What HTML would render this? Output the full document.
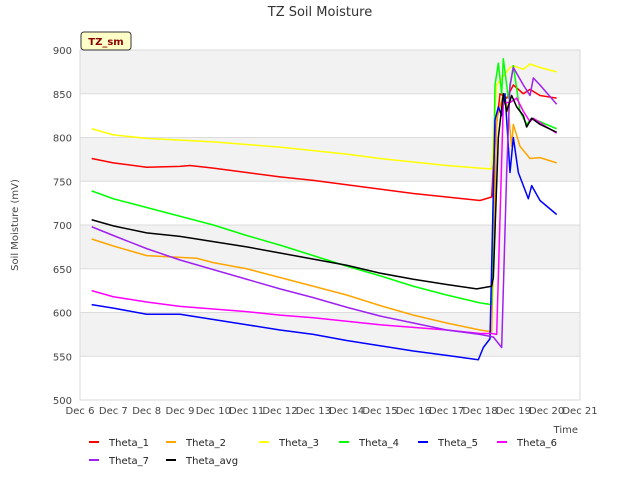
<!DOCTYPE html>
<html><head><meta charset="utf-8"><style>
body{margin:0;background:#fff;font-family:"Liberation Sans","DejaVu Sans",sans-serif}
svg text{font-family:"DejaVu Sans","Liberation Sans",sans-serif}
</style></head><body>
<svg id="c" width="640" height="480" xmlns="http://www.w3.org/2000/svg"></svg>
<script>
const yTicks=[500,550,600,650,700,750,800,850,900];
const xTickLabels=["Dec 6","Dec 7","Dec 8","Dec 9","Dec 10","Dec 11","Dec 12","Dec 13","Dec 14","Dec 15","Dec 16","Dec 17","Dec 18","Dec 19","Dec 20","Dec 21"];
const seriesNames=["Theta_1","Theta_2","Theta_3","Theta_4","Theta_5","Theta_6","Theta_7","Theta_avg"];
const seriesColors=["#ff0000","#ffa500","#ffff00","#00ff00","#0000ff","#ff00ff","#a020f0","#000000"];
const theta1=[[0.35,776],[1,771],[2,766],[3,767],[3.3,768],[4,765],[5,760],[6,755],[7,751],[8,746],[9,741],[10,736],[11,732],[12,728],[12.35,732],[12.45,800],[12.6,850],[12.8,845],[13,860],[13.3,850],[13.5,855],[13.8,848],[14.3,845]];
const theta2=[[0.35,684],[1,676],[2,665],[3,663],[3.5,662],[4,657],[5,650],[6,640],[7,630],[8,620],[9,608],[10,597],[11,588],[12,580],[12.35,578],[12.5,820],[12.7,850],[12.85,830],[12.95,790],[13,815],[13.2,790],[13.5,776],[13.8,777],[14.3,771]];
const theta3=[[0.35,810],[1,803],[2,799],[3,797],[4,795],[5,792],[6,789],[7,785],[8,781],[9,776],[10,772],[11,768],[12,765],[12.35,764],[12.5,860],[12.7,870],[12.9,880],[13,882],[13.3,878],[13.5,884],[13.8,880],[14.3,875]];
const theta4=[[0.35,739],[1,730],[2,720],[3,710],[4,700],[5,688],[6,677],[7,665],[8,653],[9,642],[10,630],[11,620],[12,611],[12.35,609],[12.45,860],[12.55,885],[12.65,850],[12.7,890],[12.85,845],[13,882],[13.2,830],[13.4,815],[13.55,822],[13.8,818],[14.3,810]];
const theta5=[[0.35,609],[1,605],[2,598],[3,598],[4,592],[5,586],[6,580],[7,575],[8,568],[9,562],[10,556],[11,551],[11.95,546],[12.1,560],[12.3,570],[12.45,820],[12.55,835],[12.65,825],[12.75,850],[12.9,760],[13,800],[13.15,760],[13.45,730],[13.55,745],[13.8,728],[14.3,712]];
const theta6=[[0.35,625],[1,618],[2,612],[3,607],[4,604],[5,601],[6,597],[7,594],[8,590],[9,586],[10,583],[11,580],[12,576],[12.35,576],[12.5,575],[12.7,840],[12.9,840],[13.1,845],[13.3,830],[13.5,818],[13.6,822],[14,812],[14.3,805]];
const theta7=[[0.35,698],[1,688],[2,673],[3,660],[4,649],[5,638],[6,627],[7,617],[8,606],[9,596],[10,588],[11,580],[12,575],[12.4,572],[12.65,560],[12.8,760],[12.9,860],[13,880],[13.3,860],[13.5,848],[13.6,868],[13.8,860],[14.3,838]];
const thetaAvg=[[0.35,706],[1,699],[2,691],[3,687],[4,681],[5,675],[6,668],[7,661],[8,654],[9,645],[10,638],[11,632],[11.9,627],[12.35,630],[12.4,640],[12.55,800],[12.7,850],[12.8,830],[12.95,848],[13.1,835],[13.3,825],[13.4,812],[13.55,822],[13.8,815],[14.3,806]];
const allSeries=[theta1,theta2,theta3,theta4,theta5,theta6,theta7,thetaAvg];

const L=80,R=580,T=50,B=400;
const xs=d=>L+(R-L)*d/15;
const ys=v=>B-(B-T)*(v-500)/400;
const NS="http://www.w3.org/2000/svg";
const svg=document.getElementById('c');
function mk(t,a,txt){const e=document.createElementNS(NS,t);for(const k in a)e.setAttribute(k,a[k]);if(txt!==undefined)e.textContent=txt;svg.appendChild(e);return e;}

let e=mk('rect',{x:L,y:T,width:R-L,height:B-T,fill:'#fff',stroke:'#d9d9d9'});


for(let i=0;i<yTicks.length-1;i++){
  if(i%2===1){
    const b=mk('rect',{x:L,y:ys(yTicks[i+1]),width:R-L,height:ys(yTicks[i])-ys(yTicks[i+1]),fill:'#f2f2f2'});
    
    
  }
}
yTicks.forEach(v=>{
  const g=mk('line',{x1:L,x2:R,y1:ys(v),y2:ys(v),stroke:'#dcdcdc','stroke-width':1});
  
  
  const t=mk('text',{x:L-8,y:ys(v)+4,'text-anchor':'end','font-size':10,fill:'#444'},v);
  
  
});
mk('rect',{x:L,y:T,width:R-L,height:B-T,fill:'none',stroke:'#d9d9d9'});
xTickLabels.forEach((s,i)=>{
  const t=mk('text',{x:xs(i),y:414,'text-anchor':'middle','font-size':10,fill:'#444'},s);
  
  
});
allSeries.forEach((sr,i)=>{
  const p=mk('polyline',{points:sr.map(q=>xs(q[0])+','+ys(q[1])).join(' '),fill:'none',stroke:seriesColors[i],'stroke-width':1.5,'stroke-linejoin':'round'});
  
  
});
e=mk('text',{x:320,y:16,'text-anchor':'middle','font-size':13,fill:'#333'},'TZ Soil Moisture');


e=mk('text',{x:18,y:225,'text-anchor':'middle','font-size':10,fill:'#444',transform:'rotate(-90 18 225)'},'Soil Moisture (mV)');


e=mk('text',{x:578,y:433,'text-anchor':'end','font-size':10,fill:'#444'},'Time');


e=mk('rect',{x:81,y:32,width:50,height:18,rx:3,fill:'#ffffc8',stroke:'#333'});


e=mk('text',{x:106,y:45,'text-anchor':'middle','font-size':10,'font-weight':'bold',fill:'#8b0000'},'TZ_sm');


const legX=[89,166,259,339,418,497,89,166];
const legY=[442,442,442,442,442,442,460,460];
seriesNames.forEach((n,i)=>{
  const l=mk('line',{x1:legX[i],x2:legX[i]+10,y1:legY[i],y2:legY[i],stroke:seriesColors[i],'stroke-width':2});
  
  
  const t=mk('text',{x:legX[i]+20,y:legY[i]+4,'font-size':10,fill:'#222'},n);
  
  
});
</script>
</body></html>
